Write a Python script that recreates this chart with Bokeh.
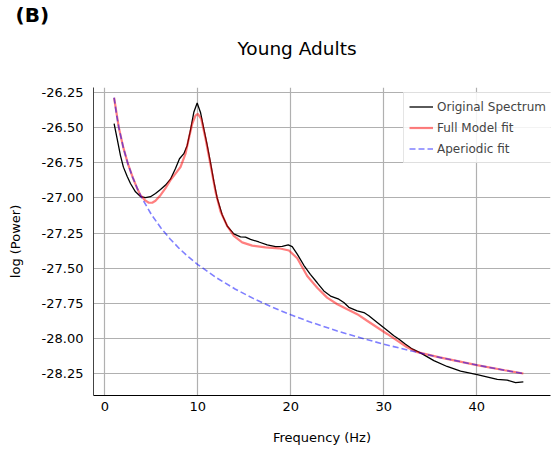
from bokeh.plotting import figure
from bokeh.models import Range1d, FixedTicker, Legend, LegendItem, Title, NumeralTickFormatter
from bokeh.embed import file_html
from bokeh.resources import INLINE

# ---- data ----
orig_freq = [1.0, 1.33, 1.68, 2.0, 2.4, 2.76, 3.3, 3.84, 4.38, 4.91, 5.45, 5.99, 6.53, 7.06,
             7.6, 8.03, 8.5, 8.86, 9.2, 9.57, 9.93, 10.29, 10.65, 11.0, 11.37, 11.72, 12.08,
             12.62, 13.16, 13.87, 14.59, 15.13, 15.67, 16.56, 17.46, 18.36, 19.08, 19.72,
             20.15, 20.69, 21.4, 22.1, 22.84, 23.55, 24.27, 25.16, 25.7, 26.24, 27.14, 27.86,
             28.39, 29.29, 30.18, 31.08, 31.6, 32.3, 33.05, 33.94, 35.38, 36.8, 38.25, 40.04,
             42.2, 43.27, 44.16, 45.0]
orig_pow = [-26.47, -26.578, -26.696, -26.78, -26.845, -26.897, -26.956, -26.99, -26.998,
            -26.991, -26.968, -26.94, -26.908, -26.866, -26.79, -26.72, -26.684, -26.625,
            -26.519, -26.389, -26.323, -26.39, -26.507, -26.62, -26.75, -26.88, -27.0, -27.12,
            -27.20, -27.256, -27.277, -27.279, -27.295, -27.314, -27.335, -27.347, -27.345,
            -27.335, -27.347, -27.40, -27.48, -27.545, -27.605, -27.663, -27.70, -27.722,
            -27.746, -27.78, -27.805, -27.817, -27.84, -27.888, -27.935, -27.983, -28.006,
            -28.042, -28.077, -28.105, -28.16, -28.202, -28.235, -28.26, -28.294, -28.30,
            -28.317, -28.312]

model_freq = [1.0, 1.5, 2.0, 2.5, 3.0, 3.5, 3.84, 4.3, 4.73, 5.1, 5.45, 5.99, 6.53, 7.06, 7.6,
              8.14, 8.68, 9.03, 9.4, 9.75, 10.0, 10.37, 10.83, 11.37, 11.9, 12.44, 13.16,
              13.87, 14.77, 15.85, 17.28, 18.72, 19.8, 20.69, 21.76, 22.84, 23.9, 25.0,
              26.06, 27.14, 28.2, 29.3, 30.36, 31.44, 32.5, 33.6, 36.0, 40.0, 43.0, 45.0]
model_pow = [-26.285, -26.495, -26.643, -26.759, -26.853, -26.935, -26.98, -27.015, -27.034,
             -27.034, -27.02, -26.98, -26.93, -26.873, -26.826, -26.779, -26.684, -26.578,
             -26.472, -26.412, -26.40, -26.436, -26.578, -26.766, -26.955, -27.096, -27.20,
             -27.27, -27.317, -27.34, -27.352, -27.359, -27.375, -27.43, -27.557, -27.64,
             -27.711, -27.758, -27.793, -27.829, -27.876, -27.924, -27.97, -28.018, -28.065,
             -28.10, -28.137, -28.192, -28.229, -28.252]

aper_freq = [1.0, 1.25, 1.5, 2.0, 2.5, 3.0, 3.5, 4.0, 5.0, 6.0, 7.0, 8.0, 9.0, 10.0, 12.0,
             14.0, 16.0, 18.0, 20.0, 22.0, 25.0, 28.0, 30.0, 33.0, 36.0, 40.0, 43.0, 45.0]
aper_pow = [-26.285, -26.400, -26.495, -26.643, -26.759, -26.853, -26.933, -27.002, -27.117,
            -27.211, -27.291, -27.360, -27.421, -27.475, -27.569, -27.649, -27.718, -27.779,
            -27.833, -27.883, -27.949, -28.007, -28.043, -28.092, -28.137, -28.192, -28.229,
            -28.252]

x_ticks = [0, 10, 20, 30, 40]
y_ticks = [-28.25, -28.0, -27.75, -27.5, -27.25, -27.0, -26.75, -26.5, -26.25]

FONT = "DejaVu Sans"

p = figure(width=560, height=453, output_backend="svg", toolbar_location=None,
           x_range=Range1d(-1.215, 47.92), y_range=Range1d(-28.409, -26.212),
           min_border_left=93, min_border_right=10, min_border_top=0, min_border_bottom=58)
p.outline_line_color = None
p.background_fill_color = "white"
p.border_fill_color = "white"

# outermost title: panel label
p.title.text = "(B)"
p.title.text_font = FONT
p.title.text_font_size = "20px"
p.title.text_font_style = "bold"
p.title.text_color = "black"
p.title.align = "left"
p.title.offset = -78
p.title.standoff = 1

tt = Title(text="Young Adults\n ", text_font=FONT, text_font_size="18.5px",
           text_font_style="normal", text_color="black", align="left", offset=144,
           standoff=16)
p.add_layout(tt, "above")

# axes
p.xaxis.ticker = FixedTicker(ticks=x_ticks)
p.yaxis.ticker = FixedTicker(ticks=y_ticks)
p.yaxis.formatter = NumeralTickFormatter(format="0.00")
for ax in (p.xaxis[0], p.yaxis[0]):
    ax.major_tick_out = 0
    ax.major_tick_in = 0
    ax.minor_tick_out = 0
    ax.minor_tick_in = 0
    ax.major_label_text_font = FONT
    ax.major_label_text_font_size = "13px"
    ax.major_label_text_color = "black"
    ax.axis_label_text_font = FONT
    ax.axis_label_text_font_size = "13px"
    ax.axis_label_text_font_style = "normal"
    ax.axis_label_text_color = "black"
p.xaxis.axis_label = "Frequency (Hz)"
p.yaxis.axis_label = "log (Power)"
p.xaxis.major_label_standoff = 6
p.xaxis.axis_label_standoff = 16
p.yaxis.major_label_standoff = 10
p.yaxis.axis_label_standoff = 16
p.xaxis.axis_line_color = "black"
p.yaxis.axis_line_color = "#444444"

p.grid.grid_line_color = "#b0b0b0"
p.grid.grid_line_width = 1.2
p.xgrid.ticker = FixedTicker(ticks=x_ticks)
p.ygrid.ticker = FixedTicker(ticks=y_ticks)

r_orig = p.line(orig_freq, orig_pow, line_color="black", line_width=1.3)
r_model = p.line(model_freq, model_pow, line_color="red", line_alpha=0.5, line_width=2.2)
r_aper = p.line(aper_freq, aper_pow, line_color="blue", line_alpha=0.5, line_width=1.6,
                line_dash="6 3")

legend = Legend(items=[LegendItem(label="Original Spectrum", renderers=[r_orig]),
                       LegendItem(label="Full Model fit", renderers=[r_model]),
                       LegendItem(label="Aperiodic fit", renderers=[r_aper])],
                location=(310, 232))
legend.label_text_font = FONT
legend.label_text_font_size = "12px"
legend.label_height = 17
legend.glyph_height = 17
legend.glyph_width = 24
legend.spacing = 4
legend.padding = 5
legend.margin = 0
legend.label_standoff = 4
legend.border_line_color = "#cccccc"
legend.border_line_width = 1
legend.background_fill_alpha = 0.85
p.add_layout(legend, "center")

open("out.html", "w").write(file_html(p, INLINE))
